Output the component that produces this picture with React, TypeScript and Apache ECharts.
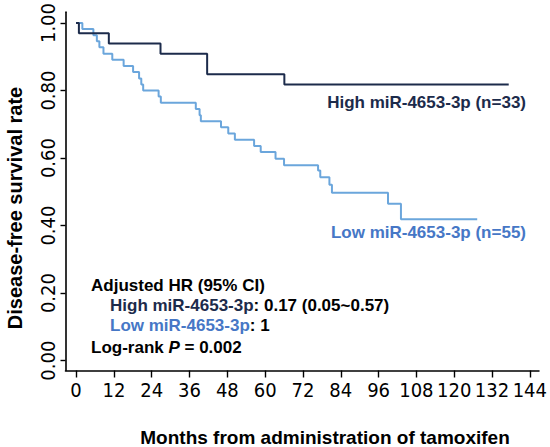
import React, { useEffect, useRef } from "react";
import * as echarts from "echarts";

// ---- data ----
const xTicks = [0, 12, 24, 36, 48, 60, 72, 84, 96, 108, 120, 132, 144];
const yTicks = [0, 0.2, 0.4, 0.6, 0.8, 1.0];

const highTimes = [0, 0.9, 10.4, 26.8, 41.6, 66.1, 137.3];
const highSurv = [1, 0.97, 0.939, 0.909, 0.848, 0.818, 0.818];

const lowTimes = [0, 2.0, 5.5, 6.6, 7.4, 8.7, 11.5, 15.1, 18.1, 20.0, 20.7, 21.3, 26.2, 26.9, 38.0, 39.2, 39.6, 46.0, 48.3, 50.4, 56.5, 58.6, 63.3, 66.0, 76.8, 77.5, 80.4, 81.2, 99.0, 103.1, 127.3];
const lowSurv = [1, 0.982, 0.964, 0.946, 0.928, 0.909, 0.891, 0.873, 0.855, 0.836, 0.818, 0.8, 0.782, 0.764, 0.745, 0.727, 0.709, 0.691, 0.673, 0.654, 0.636, 0.618, 0.598, 0.579, 0.563, 0.543, 0.521, 0.497, 0.465, 0.419, 0.419];

const highName = "High miR-4653-3p";
const lowName = "Low miR-4653-3p";
const highN = 33;
const lowN = 55;
const hrHigh = "0.17 (0.05~0.57)";
const hrLow = "1";
const logRankP = "0.002";
const xTitle = "Months from administration of tamoxifen";
const yTitle = "Disease-free survival rate";

const DARK = "#1c2b4b";
const LIGHT = "#6ba6dc";
const LIGHT_TEXT = "#4677c6";
const FONT = "Arial, 'Liberation Sans', Helvetica, sans-serif";
const NARROW = "'Liberation Sans Narrow', 'Arial Narrow', 'DejaVu Sans Condensed', sans-serif";

export default function App() {
  const ref = useRef<HTMLDivElement>(null);
  useEffect(() => {
    document.body.style.margin = "0";
    if (!ref.current) return;
    const chart = echarts.init(ref.current, null, { renderer: "svg" });
    const bold17 = { fontFamily: FONT, fontWeight: "bold", fontSize: 17 };
    chart.setOption({
      animation: false,
      backgroundColor: "#ffffff",
      grid: { left: 65.5, right: 4.3, top: 8, bottom: 76.5, containLabel: false },
      xAxis: {
        type: "value",
        min: -3.35,
        max: 146.9,
        axisLine: { show: true, onZero: false, lineStyle: { color: "#000", width: 1.6 } },
        axisTick: { show: true, length: 7, customValues: xTicks, lineStyle: { color: "#000", width: 1.4 } },
        axisLabel: { customValues: xTicks, fontSize: 20, fontFamily: NARROW, color: "#000", margin: 9 },
        splitLine: { show: false },
      },
      yAxis: {
        type: "value",
        min: -0.0293,
        max: 1.0322,
        axisLine: { show: true, onZero: false, lineStyle: { color: "#000", width: 1.6 } },
        axisTick: { show: true, length: 5, customValues: yTicks, lineStyle: { color: "#000", width: 1.4 } },
        axisLabel: {
          customValues: yTicks,
          rotate: 90,
          formatter: (v: number) => v.toFixed(2),
          fontSize: 20,
          fontFamily: NARROW,
          color: "#000",
          margin: 8,
        },
        splitLine: { show: false },
      },
      series: [
        {
          name: lowName,
          type: "line",
          step: "end",
          symbol: "none",
          data: lowTimes.map((t, i) => [t, lowSurv[i]]),
          lineStyle: { color: LIGHT, width: 2 },
          z: 2,
        },
        {
          name: highName,
          type: "line",
          step: "end",
          symbol: "none",
          data: highTimes.map((t, i) => [t, highSurv[i]]),
          lineStyle: { color: DARK, width: 2 },
          z: 3,
        },
      ],
      graphic: [
        {
          type: "text",
          x: 15,
          y: 208,
          rotation: Math.PI / 2,
          style: { text: yTitle, fill: "#000", font: `bold 20px ${FONT}`, align: "center", verticalAlign: "middle", textAlign: "center", textVerticalAlign: "middle" },
        },
        {
          type: "text",
          x: 325,
          y: 437,
          style: { text: xTitle, fill: "#000", font: `bold 19px ${FONT}`, align: "center", verticalAlign: "middle", textAlign: "center", textVerticalAlign: "middle" },
        },
        {
          type: "text",
          x: 526,
          y: 102,
          style: { text: `${highName} (n=${highN})`, fill: DARK, font: `bold 17px ${FONT}`, align: "right", verticalAlign: "middle", textAlign: "right", textVerticalAlign: "middle" },
        },
        {
          type: "text",
          x: 526,
          y: 232,
          style: { text: `${lowName} (n=${lowN})`, fill: LIGHT_TEXT, font: `bold 17px ${FONT}`, align: "right", verticalAlign: "middle", textAlign: "right", textVerticalAlign: "middle" },
        },
        {
          type: "text",
          x: 91,
          y: 285.5,
          style: { text: "Adjusted HR (95% CI)", fill: "#000", font: `bold 17px ${FONT}`, align: "left", verticalAlign: "middle", textAlign: "left", textVerticalAlign: "middle" },
        },
        {
          type: "text",
          x: 110,
          y: 305,
          style: {
            text: `{a|${highName}}{b|: ${hrHigh}}`,
            align: "left",
            verticalAlign: "middle",
            textAlign: "left",
            textVerticalAlign: "middle",
            rich: { a: { ...bold17, fill: DARK, color: DARK }, b: { ...bold17, fill: "#000", color: "#000" } },
          },
        },
        {
          type: "text",
          x: 110,
          y: 325.5,
          style: {
            text: `{a|${lowName}}{b|: ${hrLow}}`,
            align: "left",
            verticalAlign: "middle",
            textAlign: "left",
            textVerticalAlign: "middle",
            rich: { a: { ...bold17, fill: LIGHT_TEXT, color: LIGHT_TEXT }, b: { ...bold17, fill: "#000", color: "#000" } },
          },
        },
        {
          type: "text",
          x: 91,
          y: 347.5,
          style: {
            text: `{b|Log-rank }{i|P}{b| = ${logRankP}}`,
            align: "left",
            verticalAlign: "middle",
            textAlign: "left",
            textVerticalAlign: "middle",
            rich: {
              b: { ...bold17, fill: "#000", color: "#000" },
              i: { ...bold17, fontStyle: "italic", fill: "#000", color: "#000" },
            },
          },
        },
      ],
    });
    return () => chart.dispose();
  }, []);
  return (
    <div
      ref={ref}
      style={{ position: "absolute", left: 0, top: 0, width: 550, height: 447, background: "#fff" }}
    />
  );
}
